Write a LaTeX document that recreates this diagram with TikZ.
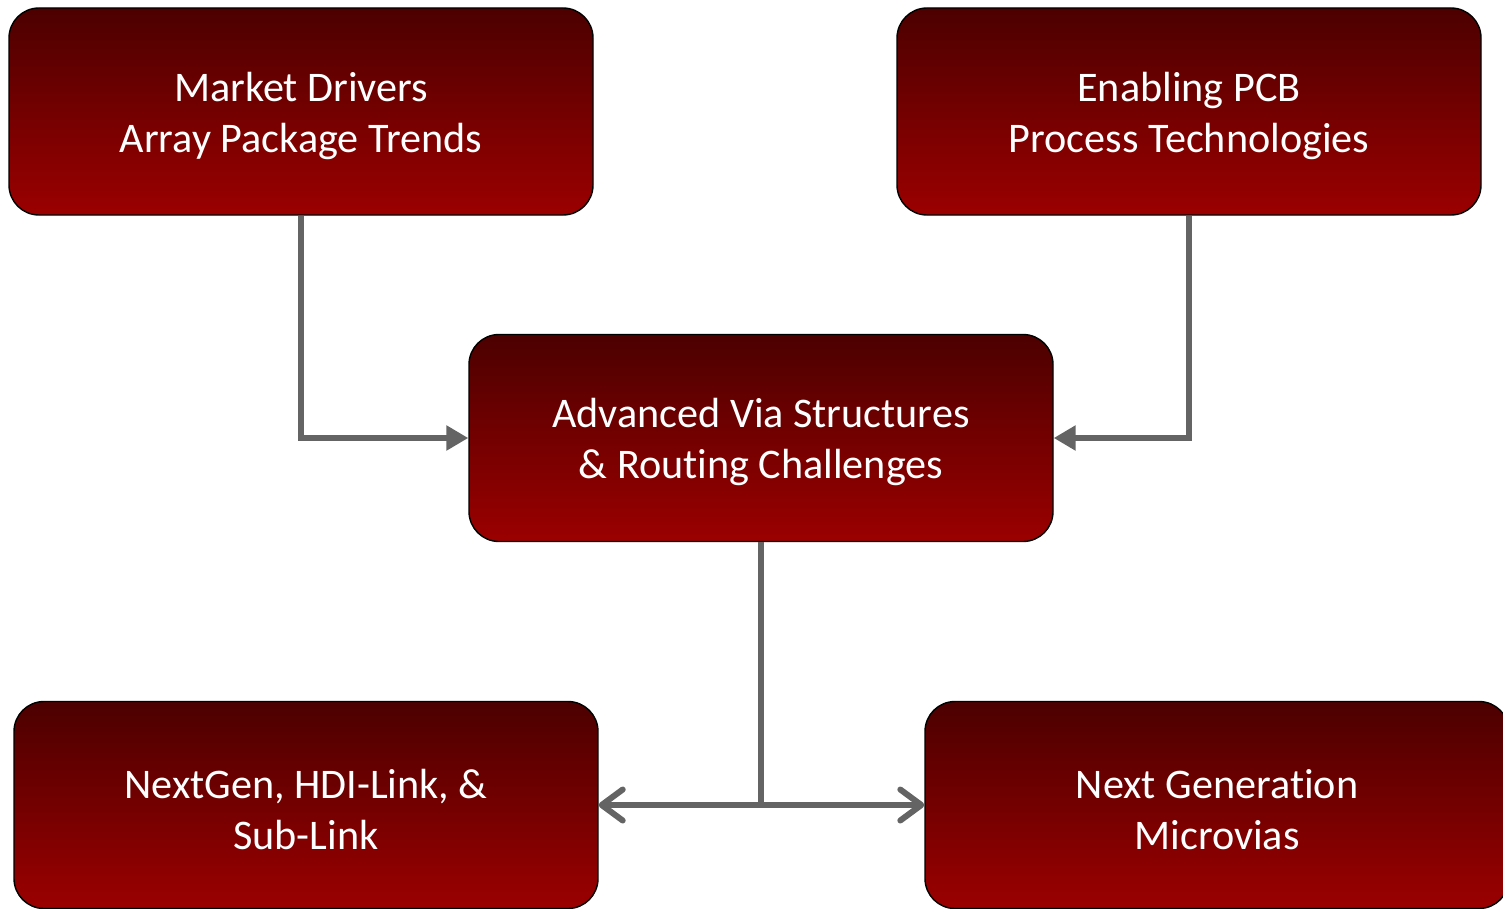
\documentclass[tikz,border=0pt]{standalone}
\usepackage{fontspec}
\setmainfont{Carlito}[Ligatures=NoCommon]
\usetikzlibrary{arrows.meta}
\definecolor{boxtop}{RGB}{76,0,0}
\definecolor{boxbottom}{RGB}{155,0,0}
\definecolor{linkgray}{RGB}{100,100,100}
\newcommand{\topgap}{\rule{0pt}{0.76cm}}

\begin{document}
\begin{tikzpicture}[
  topicbox/.style={draw=black,line width=0.8pt,rounded corners=0.6cm,
    top color=boxtop,bottom color=boxbottom,text=white,
    minimum width=11.68cm,minimum height=4.14cm,align=center,
    font=\fontsize{24}{29}\selectfont},
  feedlink/.style={draw=linkgray,line width=0.12cm,
    -{Triangle[length=0.44cm,width=0.48cm]}},
  splitlink/.style={draw=linkgray,line width=0.12cm,
    -{Straight Barb[length=0.42cm,width=0.62cm,round]}}]
\useasboundingbox (0,0) rectangle (30.06,-18.16);
\node [topicbox] (drivers) at (6.02,-2.23) {\topgap Market Drivers\\Array Package Trends};
\node [topicbox] (enabling) at (23.78,-2.23) {\topgap Enabling PCB\\Process Technologies};
\node [topicbox] (via) at (15.22,-8.76) {\topgap Advanced Via Structures\\\& Routing Challenges};
\node [topicbox] (nextgen) at (6.12,-16.1) {\topgap NextGen, HDI-Link, \&\\Sub-Link};
\node [topicbox] (micro) at (24.34,-16.1) {\topgap Next Generation\\Microvias};
\coordinate (fork) at (via.south |- nextgen.east);
% links into the centre box
\draw [feedlink] (drivers.south) |- (via.west);
\draw [feedlink] (enabling.south) |- (via.east);
% split to the bottom boxes
\draw [draw=linkgray,line width=0.12cm] (via.south) -- (fork);
\draw [splitlink] (fork) -- (nextgen.east);
\draw [splitlink] (fork) -- (micro.west);
\end{tikzpicture}
\end{document}
